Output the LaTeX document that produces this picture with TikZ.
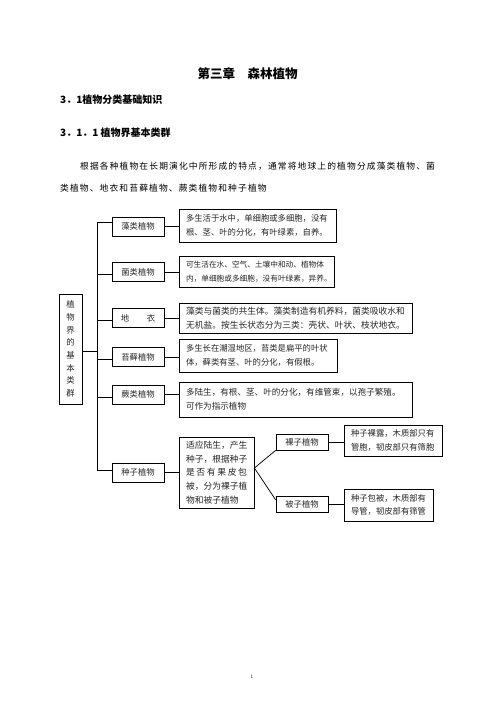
\documentclass[tikz,border=0pt]{standalone}
\usepackage{fontspec}
\usetikzlibrary{calc}
\newfontfamily\cjk{Noto Sans CJK SC}
\newfontfamily\cjkls[LetterSpace=13]{Noto Sans CJK SC}
\newcommand\fs[2]{\fontsize{#1}{#2}\selectfont}
\begin{document}
\begin{tikzpicture}[x=1.2pt,y=-1.2pt,
  lbl/.style={inner sep=0pt, anchor=west},
  box/.style={draw, line width=0.9pt, inner sep=0pt, font=\cjk\fs{10}{12}, text=black!85, minimum width=62.4pt, minimum height=22.8pt},
  smallbox/.style={box, minimum height=19.2pt},
  desc/.style={draw, line width=0.9pt, inner xsep=8.4pt, inner ysep=0pt, align=left, font=\cjk\fs{10}{16.2}, text=black!85},
  link/.style={line width=0.9pt}]
\fill[white] (0,0) rectangle (496,702);
\useasboundingbox (0,0) rectangle (496,702);

% headings
\node[inner sep=0pt, font=\cjk\bfseries\fs{15}{18}] (title) at (247.5,73.5) {第三章　森林植物};
\node[lbl, font=\cjk\bfseries\fs{12}{14}] (h1) at (60,100) {3．1植物分类基础知识};
\node[lbl, font=\cjk\bfseries\fs{12}{14}] (h2) at (60,132.7) {3．1．1 植物界基本类群};
\node[lbl, font=\cjkls\fs{10.5}{12}] (p1) at (80,166) {根据各种植物在长期演化中所形成的特点，通常将地球上的植物分成藻类植物、菌};
\node[lbl, font=\cjkls\fs{10.5}{12}] (p2) at (60,188) {类植物、地衣和苔藓植物、蕨类植物和种子植物};

% root
\node[draw, line width=0.9pt, inner sep=0pt, minimum width=27.6pt, minimum height=132pt, align=center, font=\cjk\fs{10}{15.2}, text=black!85] (root) at (70.5,349) {植\\物\\界\\的\\基\\本\\类\\群};

% level-1 boxes
\node[box] (zao) at (138,226.5) {藻类植物};
\node[box] (jun) at (138,272) {菌类植物};
\node[box] (diyi) at (138,318) {\hbox to 41pt{地\hfil 衣}};
\node[box] (tai) at (138,357) {苔藓植物};
\node[box] (jue) at (138,394.5) {蕨类植物};
\node[box] (zhong) at (138,472.5) {种子植物};

% descriptions
\node[desc, text width=171.6pt, minimum height=39.6pt] (zaoD) at (257.5,225.5) {多生活于水中，单细胞或多细胞，没有\\根、茎、叶的分化，有叶绿素，自养。};
\node[desc, text width=169.2pt, minimum height=37.2pt, font=\cjk\fs{9.2}{16.2}] (junD) at (256.5,271.5) {可生活在水、空气、土壤中和动、植物体\\内，单细胞或多细胞，没有叶绿素，异养。};
\node[desc, text width=262.8pt, minimum height=36pt, font=\cjk\fs{10.5}{16.2}] (diyiD) at (295.5,318) {藻类与菌类的共生体。藻类制造有机养料，菌类吸收水和\\无机盐。按生长状态分为三类：壳状、叶状、枝状地衣。};
\node[desc, text width=172.8pt, minimum height=39.6pt] (taiD) at (258,355.5) {多生长在潮湿地区，苔类是扁平的叶状\\体，藓类有茎、叶的分化，有假根。};
\node[desc, text width=262.8pt, minimum height=42pt, font=\cjk\fs{10.3}{16.8}] (jueD) at (295.5,399.5) {多陆生，有根、茎、叶的分化，有维管束，以孢子繁殖。\\可作为指示植物};
\node[desc, text width=73.2pt, minimum height=85.2pt, font=\cjk\fs{10.5}{16.5}] (seed) at (216.5,472.5) {适应陆生，产生\\种子，根据种子\\\makebox[73.2pt][s]{是\hfil 否\hfil 有\hfil 果\hfil 皮\hfil 包}\\被，分为裸子植\\物和被子植物};

\node[smallbox] (luo) at (302,442) {裸子植物};
\node[smallbox] (bei) at (302,504) {被子植物};
\node[desc, text width=100.8pt, minimum height=37.2pt, font=\cjk\fs{10}{16.2}] (luoD) at (393,440.5) {种子裸露，木质部只有\\管胞，韧皮部只有筛胞};
\node[desc, text width=90pt, minimum height=38.4pt] (beiD) at (388.5,505) {种子包被，木质部有\\导管，韧皮部有筛管};

% page number
\node[inner sep=0pt, font=\fs{6}{7}] (pg) at (252,677) {1};

% trunk and branches
\coordinate (t1) at (97,222);
\coordinate (t2) at (97,274);
\coordinate (t3) at (97,320);
\coordinate (t4) at (97,359);
\coordinate (t5) at (97,397);
\coordinate (t6) at (97,470);
\coordinate (rj) at (97,351);
\draw[link] (t1 -| zao.west) -- (t1) -- (t6) -- (t6 -| zhong.west);
\draw[link] (t2) -- (t2 -| jun.west);
\draw[link] (t3) -- (t3 -| diyi.west);
\draw[link] (t4) -- (t4 -| tai.west);
\draw[link] (t5) -- (t5 -| jue.west);
\draw[link] (rj -| root.east) -- (rj);

% right connectors
\draw[link] (zao.east) -- (zao.east -| zaoD.west);
\draw[link] (jun.east) -- (jun.east -| junD.west);
\draw[link] (diyi.east) -- (diyi.east -| diyiD.west);
\draw[link] (tai.east) -- (tai.east -| taiD.west);
\draw[link] (jue.east) -- (jue.east -| jueD.west);
\draw[link] (zhong.east) -- (zhong.east -| seed.west);

% fork
\coordinate (fork) at ($(seed.east)+(0,-4.5)$);
\draw[link] (fork) -- (luo.south west);
\draw[link] (fork) -- ($(bei.north west)!0.25!(bei.south west)$);
\draw[link] (luo.east) -- (luo.east -| luoD.west);
\draw[link] (bei.east) -- (bei.east -| beiD.west);
\end{tikzpicture}
\end{document}
